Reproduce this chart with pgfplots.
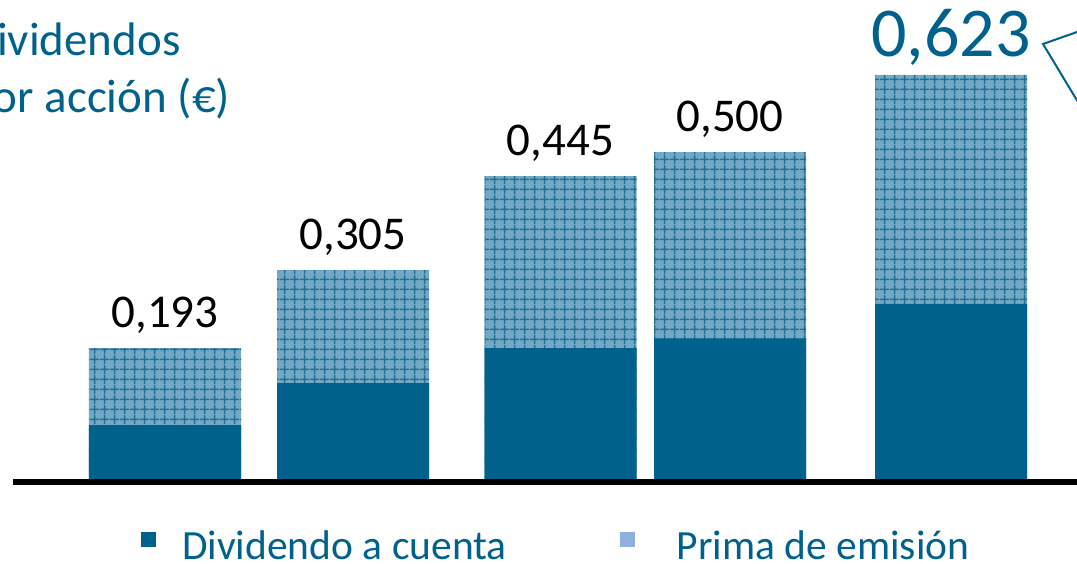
\documentclass[border=0pt]{standalone}
\usepackage{pgfplots}
\pgfplotsset{compat=1.18}
\usepackage{pgfplotstable}
\usepackage{fontspec}
\setmainfont{Carlito}
\usetikzlibrary{patterns.meta}
\definecolor{c1}{HTML}{00628C}
\definecolor{c2}{HTML}{74A9C5}
\definecolor{c3}{HTML}{1F6F96}
\definecolor{c4}{HTML}{8EAFDF}
\tikzdeclarepattern{
  name=tilegrid,
  type=uncolored,
  bounding box={(0pt,0pt) and (10pt,10pt)},
  tile size={(10pt,10pt)},
  code={\draw[line width=1.7pt] (5pt,0pt) -- (5pt,10pt) (0pt,5pt) -- (10pt,5pt);}
}
\newcommand\labE{\raisebox{-3pt}{\textcolor{c1}{\fontsize{70}{70}\selectfont 0,623}}}
% total per share (top of patterned bar) and dividend part
\pgfplotstableread{
x     total  cuenta  lab
165   0.202  0.083   0,193
353   0.322  0.148   0,305
560.5 0.467  0.202   0,445
730   0.504  0.217   0,500
951   0.623  0.270   \labE
}\data
\begin{document}
\begin{tikzpicture}
\path[use as bounding box] (0,0) rectangle (1077pt,563pt);
\clip (0,0) rectangle (1077pt,563pt);
\begin{axis}[
  at={(0,0)}, anchor=south west,
  scale only axis, width=1077pt, height=563pt,
  hide axis, clip=false,
  xmin=0, xmax=1077, ymin=-0.12953, ymax=0.73863,
  ybar, bar width=152, bar shift=0pt,
  legend style={at={(axis cs:141,-0.1025)}, anchor=west, draw=none, fill=none,
    inner sep=0pt, font=\fontsize{41.5}{41.5}\selectfont, text=c1,
    nodes={inner sep=0pt},
    /tikz/every odd column/.append style={column sep=26pt},
    /tikz/every even column/.append style={column sep=113pt}},
  legend columns=2,
  legend image code/.code={\fill[#1, draw=none] (0pt,-2pt) rectangle (15pt,13pt);},
]
\addplot[draw=none, preaction={fill=c2}, pattern=tilegrid, pattern color=c3, forget plot,
  nodes near coords={\smash{\pgfplotspointmeta}}, point meta=explicit symbolic,
  every node near coord/.append style={anchor=base, inner sep=0pt, yshift=21pt, text=black, font=\fontsize{47}{47}\selectfont}
] table[x=x,y=total,meta=lab] {\data};
\addplot[fill=c1, draw=none, forget plot] table[x=x,y=cuenta] {\data};
\addlegendimage{fill=c1}
\addlegendentry{Dividendo a cuenta}
\addlegendimage{fill=c4}
\addlegendentry{\hspace{16pt}Prima de emisión}
\draw[black, line width=6pt] ([yshift=-3pt]axis cs:13,0) -- ([yshift=-3pt]axis cs:1100,0);
\node[anchor=base west, text=c1, font=\fontsize{47}{47}\selectfont, inner sep=0pt] at (axis cs:-32,0.6538) {Dividendos};
\node[anchor=base west, text=c1, font=\fontsize{47}{47}\selectfont, inner sep=0pt] at (axis cs:-32,0.5659) {por acción (€)};
\draw[c1, line width=2pt] (axis cs:1090,0.6963) -- (axis cs:1043,0.6708) -- (axis cs:1084,0.5659);
\end{axis}
\end{tikzpicture}
\end{document}
